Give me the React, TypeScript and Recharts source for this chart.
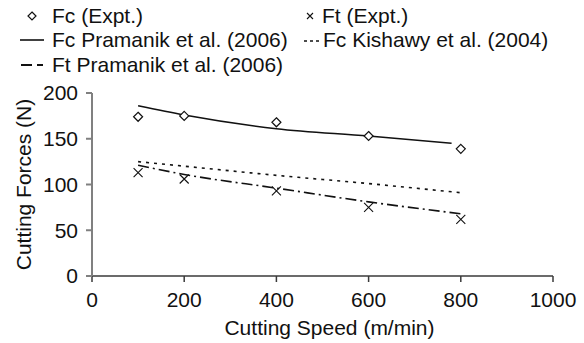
import React from "react"
import { ComposedChart, Line, Scatter, XAxis, YAxis } from "recharts"

const speeds = [100, 200, 400, 600, 800]
const fcExpt = [174, 175, 168, 153, 139]
const ftExpt = [113, 106, 93, 75, 62]

const fcPramanikSpeeds = [100, 200, 400, 600, 780]
const fcPramanik = [186, 176, 161, 153, 145]
const fcKishawy = [125, 120, 110, 101, 91]
const ftPramanik = [121, 111, 96, 81, 68]

const xTicks = [0, 200, 400, 600, 800, 1000]
const yTicks = [0, 50, 100, 150, 200]

const toPoints = (xs: number[], ys: number[]) => xs.map((x, i) => ({ x, y: ys[i] }))

const FONT = "'Liberation Sans', Arial, sans-serif"
const AXIS_GREY = "#808080"
const AXIS_DARK = "#3a3a3a"

const Diamond = (props: any) => {
  const { cx, cy } = props
  if (cx == null || cy == null) return null
  const r = 4.5
  return (
    <path
      d={`M${cx},${cy - r}L${cx + r},${cy}L${cx},${cy + r}L${cx - r},${cy}Z`}
      fill="#fff"
      stroke="#111"
      strokeWidth={1.2}
    />
  )
}

const Cross = (props: any) => {
  const { cx, cy } = props
  if (cx == null || cy == null) return null
  const r = 4.5
  return (
    <path
      d={`M${cx - r},${cy - r}L${cx + r},${cy + r}M${cx - r},${cy + r}L${cx + r},${cy - r}`}
      stroke="#111"
      strokeWidth={1.1}
      fill="none"
    />
  )
}

function LegendItem({ left, top, icon, label }: { left: number; top: number; icon: React.ReactNode; label: string }) {
  return (
    <div style={{ position: "absolute", left, top, display: "flex", alignItems: "center", height: 24, lineHeight: "24px", whiteSpace: "nowrap" }}>
      {icon}
      <span style={{ fontSize: 21, color: "#111" }}>{label}</span>
    </div>
  )
}

export default function App() {
  return (
    <div style={{ position: "absolute", left: 0, top: 0, width: 584, height: 343, background: "#fff", fontFamily: FONT }}>
      <ComposedChart width={584} height={343} margin={{ top: 93, right: 31, bottom: 0, left: 0 }}>
        <XAxis
          type="number"
          dataKey="x"
          domain={[0, 1000]}
          ticks={xTicks}
          height={67}
          tickSize={6}
          tickMargin={10}
          tick={{ fontSize: 21, fill: "#111", fontFamily: FONT }}
          axisLine={{ stroke: AXIS_DARK, strokeWidth: 1.5 }}
          tickLine={{ stroke: AXIS_DARK, strokeWidth: 1.5 }}
          label={{ value: "Cutting Speed (m/min)", position: "insideBottom", offset: 8, dx: 7, fontSize: 21, fill: "#111", fontFamily: FONT }}
        />
        <YAxis
          type="number"
          dataKey="y"
          domain={[0, 200]}
          ticks={yTicks}
          width={92}
          tickSize={6}
          tickMargin={8}
          tick={{ fontSize: 21, fill: "#111", fontFamily: FONT }}
          axisLine={{ stroke: AXIS_GREY, strokeWidth: 2 }}
          tickLine={{ stroke: AXIS_GREY, strokeWidth: 2 }}
          label={{
            content: ({ viewBox }: any) => {
              const cx = viewBox.x + 23
              const cy = viewBox.y + viewBox.height / 2
              return (
                <text x={cx} y={cy} transform={`rotate(-90, ${cx}, ${cy})`} textAnchor="middle" dominantBaseline="central" fontSize={21} fill="#111" fontFamily={FONT}>
                  Cutting Forces (N)
                </text>
              )
            },
          }}
        />
        <Line data={toPoints(fcPramanikSpeeds, fcPramanik)} dataKey="y" type="monotone" stroke="#111" strokeWidth={1.6} dot={false} isAnimationActive={false} />
        <Line data={toPoints(speeds, fcKishawy)} dataKey="y" type="monotone" stroke="#111" strokeWidth={1.6} strokeDasharray="3 5" dot={false} isAnimationActive={false} />
        <Line data={toPoints(speeds, ftPramanik)} dataKey="y" type="monotone" stroke="#111" strokeWidth={1.6} strokeDasharray="11 4 2 4" dot={false} isAnimationActive={false} />
        <Scatter data={toPoints(speeds, fcExpt)} dataKey="y" shape={<Diamond />} isAnimationActive={false} />
        <Scatter data={toPoints(speeds, ftExpt)} dataKey="y" shape={<Cross />} isAnimationActive={false} />
      </ComposedChart>

      <LegendItem
        left={18}
        top={4}
        label="Fc (Expt.)"
        icon={
          <svg width={34} height={24}>
            <path d="M14,8L18,12L14,16L10,12Z" fill="#fff" stroke="#111" strokeWidth={1.2} />
          </svg>
        }
      />
      <LegendItem
        left={18}
        top={28}
        label="Fc Pramanik et al. (2006)"
        icon={
          <svg width={34} height={24}>
            <line x1={2} y1={12} x2={26} y2={12} stroke="#111" strokeWidth={1.6} />
          </svg>
        }
      />
      <LegendItem
        left={18}
        top={53}
        label="Ft Pramanik et al. (2006)"
        icon={
          <svg width={34} height={24}>
            <line x1={3} y1={12} x2={26} y2={12} stroke="#111" strokeWidth={2} strokeDasharray="11 5 6 4" />
          </svg>
        }
      />
      <LegendItem
        left={300}
        top={4}
        label="Ft (Expt.)"
        icon={
          <svg width={22} height={24}>
            <path d="M7,9L13,15M7,15L13,9" stroke="#111" strokeWidth={1.1} />
          </svg>
        }
      />
      <LegendItem
        left={302}
        top={28}
        label="Fc Kishawy et al. (2004)"
        icon={
          <svg width={21} height={24}>
            <line x1={2} y1={13} x2={18} y2={13} stroke="#111" strokeWidth={1.6} strokeDasharray="3 3" />
          </svg>
        }
      />
    </div>
  )
}
